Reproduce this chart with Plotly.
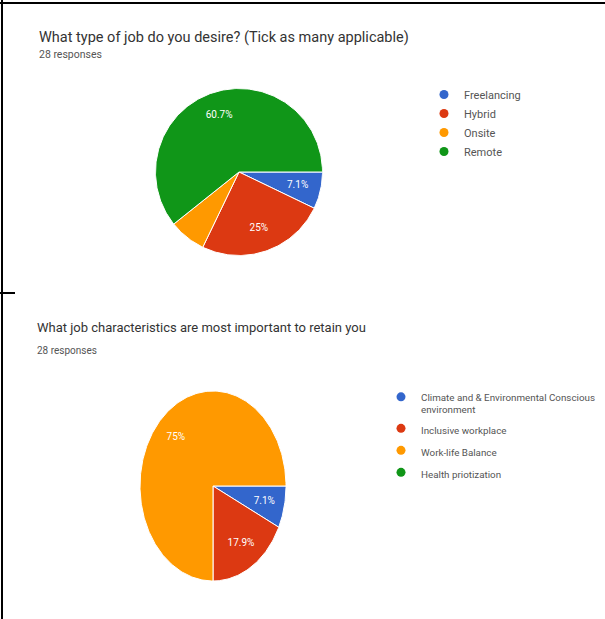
import math
import plotly.graph_objects as go

# ---------------- data ----------------
q1_title = "What type of job do you desire? (Tick as many applicable)"
q1_labels = ["Freelancing", "Hybrid", "Onsite", "Remote"]
q1_counts = [2, 7, 2, 17]
q1_show_pct = [True, True, False, True]

q2_title = "What job characteristics are most important to retain you"
q2_labels = ["Climate and & Environmental Conscious<br>environment",
             "Inclusive workplace", "Work-life Balance", "Health priotization"]
q2_counts = [2, 5, 21, 0]
q2_show_pct = [True, True, True, True]

responses_text = "28 responses"
colors = ["#3366CC", "#DC3912", "#FF9900", "#109618"]

W, H = 605, 619
FONT = "Roboto, Arial, sans-serif"


def pct_text(v, total):
    p = round(100.0 * v / total, 1)
    s = f"{p:.1f}".rstrip("0").rstrip(".")
    return s + "%"


def px_dom(c, half, total, flip=False):
    if flip:
        lo = (total - (c + half)) / total
        hi = (total - (c - half)) / total
    else:
        lo = (c - half) / total
        hi = (c + half) / total
    return [lo, hi]


fig = go.Figure()


def add_pie(labels, counts, show, xa, ya, legend_name):
    total = sum(counts)
    start = 0.0
    lx, ly, lt = [], [], []
    for i, (lab, v) in enumerate(zip(labels, counts)):
        frac = v / total
        end = start + frac
        if v > 0:
            a0, a1 = start * 2 * math.pi, end * 2 * math.pi
            n = max(2, int((a1 - a0) / (math.pi / 180)) + 1)
            xs, ys = [0.0], [0.0]
            for k in range(n + 1):
                a = a0 + (a1 - a0) * k / n
                xs.append(math.cos(a))
                ys.append(-math.sin(a))
            xs.append(0.0)
            ys.append(0.0)
            fig.add_trace(go.Scatter(
                x=xs, y=ys, mode="lines", fill="toself",
                fillcolor=colors[i], line=dict(color="white", width=1),
                xaxis=xa, yaxis=ya, showlegend=False, hoverinfo="skip",
                legendgroup=legend_name + "_" + str(i)))
            if show[i]:
                mid = (a0 + a1) / 2
                lx.append(0.72 * math.cos(mid))
                ly.append(-0.72 * math.sin(mid))
                lt.append(pct_text(v, total))
        start = end
    fig.add_trace(go.Scatter(
        x=lx, y=ly, text=lt, mode="text", xaxis=xa, yaxis=ya,
        textfont=dict(color="white", size=10, family=FONT),
        showlegend=False, hoverinfo="skip"))
    for i, lab in enumerate(labels):
        fig.add_trace(go.Scatter(
            x=[None], y=[None], mode="markers", name=lab,
            marker=dict(color=colors[i], size=9, symbol="circle"),
            xaxis=xa, yaxis=ya, legend=legend_name,
            legendgroup=legend_name + "_" + str(i)))


add_pie(q1_labels, q1_counts, q1_show_pct, "x", "y", "legend")
add_pie(q2_labels, q2_counts, q2_show_pct, "x2", "y2", "legend2")

ax_common = dict(range=[-1, 1], visible=False, fixedrange=True)

# pie 1: circle centred (239,172) r 83.5 ; pie 2: ellipse centred (213,486) 73 x 95
fig.update_layout(
    xaxis=dict(domain=px_dom(239, 83.5, W), **ax_common),
    yaxis=dict(domain=px_dom(172, 83.5, H, flip=True), **ax_common),
    xaxis2=dict(domain=px_dom(213, 73, W), **ax_common),
    yaxis2=dict(domain=px_dom(486, 95, H, flip=True), **ax_common),
)

fig.update_layout(
    width=W, height=H,
    margin=dict(l=0, r=0, t=0, b=0),
    paper_bgcolor="white", plot_bgcolor="white",
    font=dict(family=FONT, color="#444"),
    legend=dict(x=424 / W, y=1 - 80 / H, xanchor="left", yanchor="top",
                font=dict(size=11, color="#555", family=FONT),
                tracegroupgap=0,
                bgcolor="rgba(0,0,0,0)", itemclick=False),
    legend2=dict(x=381 / W, y=1 - 384 / H, xanchor="left", yanchor="top",
                 font=dict(size=9.8, color="#555", family=FONT),
                 valign="top", tracegroupgap=3,
                 bgcolor="rgba(0,0,0,0)", itemclick=False),
    annotations=[
        dict(text=q1_title, x=37 / W, y=1 - 37 / H, xref="paper", yref="paper",
             xanchor="left", yanchor="middle", showarrow=False,
             font=dict(size=14.5, color="#333", family=FONT)),
        dict(text=responses_text, x=37 / W, y=1 - 55 / H, xref="paper", yref="paper",
             xanchor="left", yanchor="middle", showarrow=False,
             font=dict(size=10.5, color="#555", family=FONT)),
        dict(text=q2_title, x=35 / W, y=1 - 327 / H, xref="paper", yref="paper",
             xanchor="left", yanchor="middle", showarrow=False,
             font=dict(size=13, color="#333", family=FONT)),
        dict(text=responses_text, x=35 / W, y=1 - 350 / H, xref="paper", yref="paper",
             xanchor="left", yanchor="middle", showarrow=False,
             font=dict(size=10, color="#555", family=FONT)),
    ],
    shapes=[
        dict(type="line", xref="paper", yref="paper", x0=0, x1=1,
             y0=1 - 3 / H, y1=1 - 3 / H, line=dict(color="black", width=2)),
        dict(type="line", xref="paper", yref="paper", x0=2 / W, x1=2 / W,
             y0=0, y1=1, line=dict(color="black", width=2)),
        dict(type="line", xref="paper", yref="paper", x0=0, x1=15 / W,
             y0=1 - 293 / H, y1=1 - 293 / H, line=dict(color="black", width=2)),
    ],
)

fig.write_html("out.html", config={"displayModeBar": False})
